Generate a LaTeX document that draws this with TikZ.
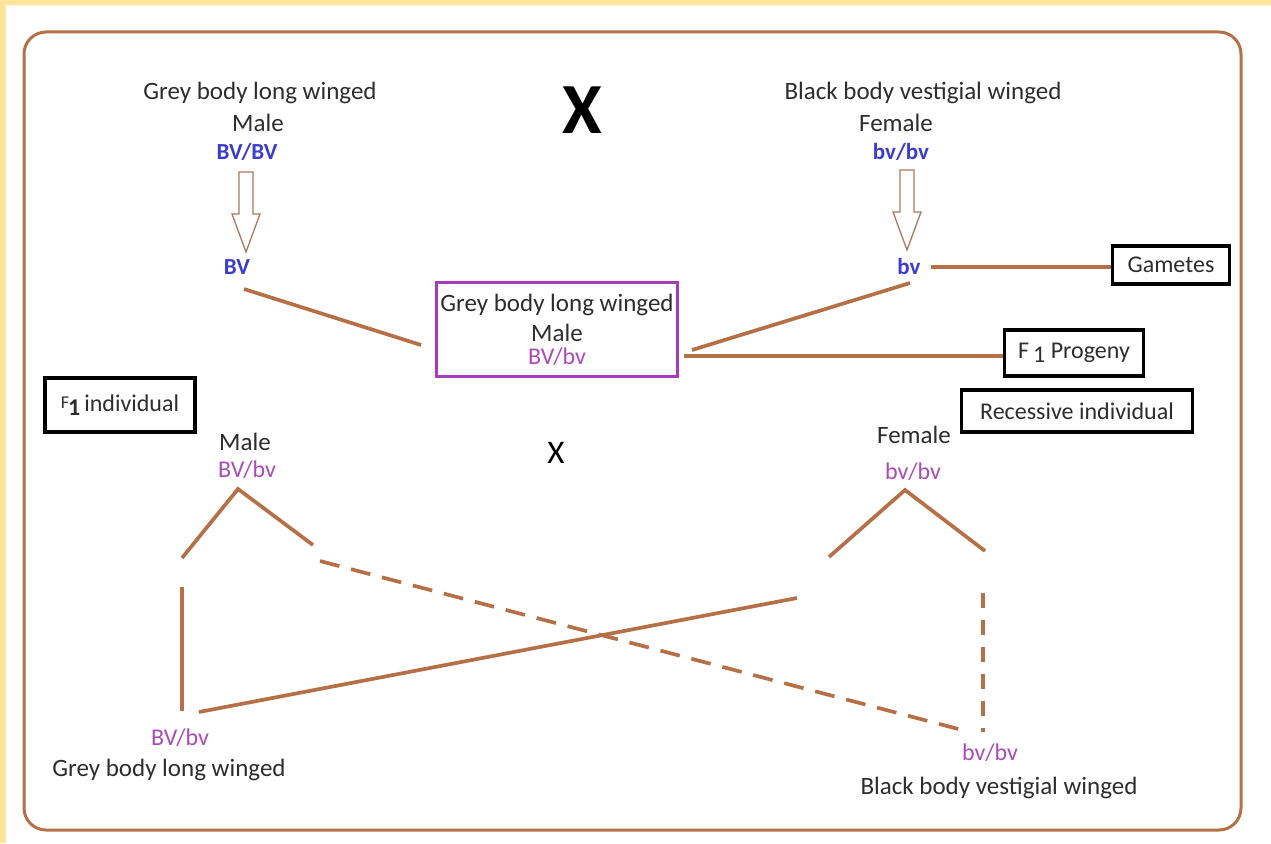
\documentclass[tikz,border=0pt]{standalone}
\usepackage{fontspec}
\setmainfont{Carlito}
\usetikzlibrary{calc}
\definecolor{ybg}{RGB}{255,228,154}
\definecolor{brn}{RGB}{182,112,72}
\definecolor{arrc}{RGB}{170,120,95}
\definecolor{gblue}{RGB}{60,60,205}
\definecolor{gpurp}{RGB}{170,75,185}
\definecolor{boxpurp}{RGB}{165,60,185}
\definecolor{txt}{RGB}{45,45,45}
\begin{document}
\begin{tikzpicture}[x=1pt,y=-1pt,
  lbl/.style={font=\fontsize{25}{30}\selectfont, text=txt, inner sep=0pt},
  blu/.style={font=\fontsize{23}{28}\selectfont\bfseries, text=gblue, inner sep=0pt},
  pur/.style={font=\fontsize{24}{28}\selectfont, text=gpurp, inner sep=0pt},
  conn/.style={draw=brn, line width=3.7pt},
  dconn/.style={conn, dash pattern=on 20pt off 12pt},
  tag/.style={draw=black, line width=3.5pt, font=\fontsize{24}{28}\selectfont, text=txt, inner sep=0pt},
  arrowline/.style={draw=arrc, line width=1.3pt, fill=white},
  hdown/.pic={\draw[arrowline] (-7,0) -- (7,0) -- (7,42) -- (14,42) -- (0,80) -- (-14,42) -- (-7,42) -- cycle;}
]
\useasboundingbox (0,0) rectangle (1271,843);
\fill[ybg] (0,0) rectangle (1271,843);
\fill[white] (6,5) rectangle (1271,843);
\draw[draw=brn, line width=3pt, rounded corners=22pt] (24,32) rectangle (1241,830);

% parents
\node[lbl] (p1) at (260,93) {Grey body long winged};
\node[lbl] (p1s) at (258,123) {Male};
\node[blu] (p1g) at (247,152) {BV/BV};
\pic at (246,172) {hdown};
\node[blu] (gBV) at (237,267) {BV};

\node[font=\fontsize{72}{80}\selectfont\bfseries, inner sep=0pt] (x1) at (582,110) {X};

\node[lbl] (p2) at (923,93) {Black body vestigial winged};
\node[lbl] (p2s) at (896,123) {Female};
\node[blu] (p2g) at (901,152) {bv/bv};
\pic at (907,170) {hdown};
\node[blu] (gbv) at (909,267) {bv};

% tags
\node[tag, minimum width=117pt, minimum height=38pt] (gam) at (1171,265) {Gametes};
\node[tag, minimum width=139pt, minimum height=46pt] (f1p) at (1074,353) {F\,\raisebox{-0.35ex}{1} Progeny};
\node[tag, minimum width=231pt, minimum height=42pt] (rec) at (1077,411) {Recessive individual};
\node[tag, minimum width=150pt, minimum height=54pt] (f1i) at (120,405) {\raisebox{0.25ex}{\fontsize{18}{20}\selectfont F}\hspace{-1pt}\raisebox{-0.35ex}{\textbf{1}}\,individual};

% F1 box
\node[draw=boxpurp, line width=3pt, minimum width=241pt, minimum height=94pt, inner sep=0pt] (cbox) at (557,329) {};
\node[lbl] (c1) at (557,305) {Grey body long winged};
\node[lbl] (c2) at (557,333) {Male};
\node[pur] (c3) at (557,357) {BV/bv};

\coordinate (a1) at (244,289);
\coordinate (a2) at (421,345);
\coordinate (b1) at (910,283);
\coordinate (b2) at (692,350);
\coordinate (c0) at (684,356);
\coordinate (d0) at (931,267);
\draw[conn] (a1) -- (a2);
\draw[conn] (b1) -- (b2);
\draw[conn] (c0) -- (c0 -| f1p.west);
\draw[conn] (d0) -- (d0 -| gam.west);

% test cross
\node[lbl] (m2) at (245,442) {Male};
\node[pur] (m2g) at (247,470) {BV/bv};
\node[font=\fontsize{33}{36}\selectfont, inner sep=0pt] (x2) at (556,453) {X};
\node[lbl] (f2) at (914,435) {Female};
\node[pur] (f2g) at (913,472) {bv/bv};

\coordinate (ma) at (238,489);
\coordinate (ml) at (182,558);
\coordinate (mr) at (313,545);
\coordinate (fa) at (905,490);
\coordinate (fl) at (829,557);
\coordinate (fr) at (985,551);
\draw[conn] (ml) -- (ma) -- (mr);
\draw[conn] (fl) -- (fa) -- (fr);

\coordinate (v1a) at (182,587);
\coordinate (v1b) at (182,711);
\coordinate (s1a) at (199,712);
\coordinate (s1b) at (797,598);
\coordinate (d1a) at (320,561);
\coordinate (d1b) at (966,731);
\coordinate (v2a) at (983,593);
\coordinate (v2b) at (983,732);
\draw[conn] (v1a) -- (v1b);
\draw[conn] (s1a) -- (s1b);
\draw[dconn] (d1a) -- (d1b);
\draw[conn, dash pattern=on 15pt off 12pt] (v2a) -- (v2b);

% offspring
\node[pur] (o1g) at (180,738) {BV/bv};
\node[lbl] (o1) at (169,770) {Grey body long winged};
\node[pur] (o2g) at (990,753) {bv/bv};
\node[lbl] (o2) at (999,788) {Black body vestigial winged};
\end{tikzpicture}
\end{document}
